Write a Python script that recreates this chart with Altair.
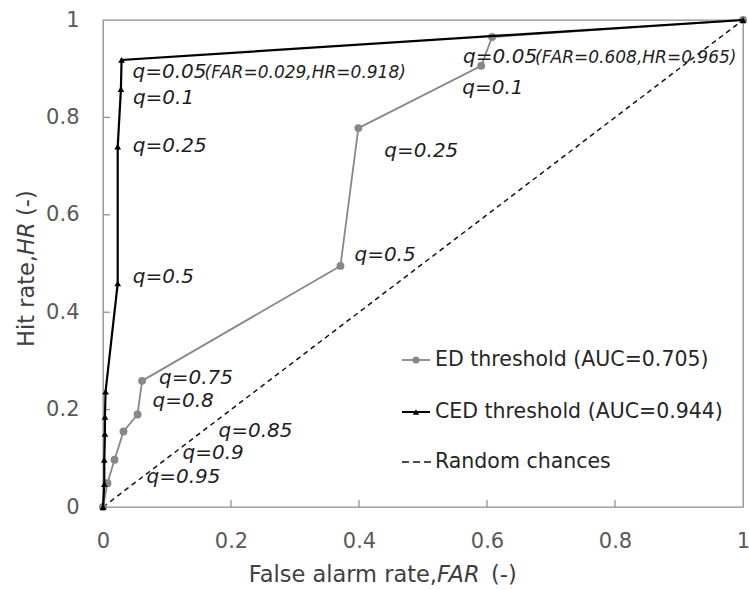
import altair as alt
import pandas as pd

# Exceedance thresholds q, from strictest to loosest
q_levels = [0.95, 0.9, 0.85, 0.8, 0.75, 0.5, 0.25, 0.1, 0.05]

# ROC points: origin, one point per threshold, then (1, 1)
ed_far = [0.0, 0.007, 0.018, 0.032, 0.054, 0.061, 0.371, 0.399, 0.591, 0.608, 1.0]
ed_hr = [0.0, 0.049, 0.097, 0.155, 0.190, 0.259, 0.495, 0.778, 0.906, 0.965, 1.0]
ced_far = [0.0, 0.002, 0.002, 0.003, 0.003, 0.004, 0.023, 0.023, 0.028, 0.029, 1.0]
ced_hr = [0.0, 0.047, 0.097, 0.150, 0.185, 0.237, 0.459, 0.740, 0.858, 0.918, 1.0]
rand_far = [0.0, 1.0]
rand_hr = [0.0, 1.0]

axis_ticks = [0, 0.2, 0.4, 0.6, 0.8, 1]
inner_ticks = [0.2, 0.4, 0.6, 0.8]

legend_labels = ["ED threshold (AUC=0.705)", "CED threshold (AUC=0.944)", "Random chances"]

# ---- layout / style ----
W, H = 640, 487
FONT = "DejaVu Sans"
ED_COLOR = "#878787"
TXT = "#1e1e1e"
LABEL_SIZE = 20
NOTE_SIZE = 17
Q_TEXT_W = 72  # rendered width of "q=0.05" at LABEL_SIZE

# label offsets (dx, dy) in pixels from the point each label names
ed_offsets = {0.95: (39, -6), 0.9: (68, -7), 0.85: (95, -1), 0.8: (15, -13),
              0.75: (17, -3), 0.5: (14, -11), 0.25: (26, 23), 0.1: (-19, 22),
              0.05: (-29, 20)}
ced_offsets = {0.5: (15, -6), 0.25: (15, -1), 0.1: (12, 9), 0.05: (11, 12)}
ced_labelled = [0.5, 0.25, 0.1, 0.05]

x_axis = alt.Axis(values=axis_ticks, format="~g", title=None, grid=False,
                  domain=False, ticks=False, tickSize=0, labelFont=FONT,
                  labelFontSize=21, labelColor="#595959", labelPadding=34,
                  labelBaseline="middle", labelFlush=False, labelOverlap=False,
                  labelBound=False)
y_axis = alt.Axis(values=axis_ticks, format="~g", title=None, grid=False,
                  domain=False, ticks=False, tickSize=0, labelFont=FONT,
                  labelFontSize=21, labelColor="#595959", labelPadding=24,
                  labelFlush=False, labelOverlap=False, labelBound=False)
xs = alt.Scale(domain=[0, 1], nice=False, zero=False)
ys = alt.Scale(domain=[0, 1], nice=False, zero=False)


def X(field="far"):
    return alt.X(f"{field}:Q", scale=xs, axis=x_axis)


def Y(field="hr"):
    return alt.Y(f"{field}:Q", scale=ys, axis=y_axis)


def curve(far, hr):
    return pd.DataFrame({"far": far, "hr": hr, "step": list(range(len(far)))})


ed = curve(ed_far, ed_hr)
ced = curve(ced_far, ced_hr)
rnd = curve(rand_far, rand_hr)

layers = []

# inward tick marks on the frame
tk = pd.DataFrame({"v": inner_ticks})
layers.append(alt.Chart(tk).mark_rule(color="#8c8c8c", strokeWidth=1.2).encode(
    x=alt.X("v:Q", scale=xs, axis=x_axis), y=alt.value(H), y2=alt.value(H - 7)))
layers.append(alt.Chart(tk).mark_rule(color="#8c8c8c", strokeWidth=1.2).encode(
    y=alt.Y("v:Q", scale=ys, axis=y_axis), x=alt.value(0), x2=alt.value(7)))

# random-chance diagonal
layers.append(alt.Chart(rnd).mark_line(color="#111111", strokeWidth=1.5,
                                       strokeDash=[5, 4]).encode(
    x=X(), y=Y(), order="step:Q"))

# ED curve
layers.append(alt.Chart(ed).mark_line(color=ED_COLOR, strokeWidth=1.8).encode(
    x=X(), y=Y(), order="step:Q"))
layers.append(alt.Chart(ed).mark_point(shape="circle", filled=True, size=62,
                                       color=ED_COLOR, opacity=1).encode(
    x=X(), y=Y()))

# CED curve
layers.append(alt.Chart(ced).mark_line(color="#000000", strokeWidth=2.2).encode(
    x=X(), y=Y(), order="step:Q"))
layers.append(alt.Chart(ced).mark_point(shape="triangle-up", filled=True, size=45,
                                        color="#000000", opacity=1).encode(
    x=X(), y=Y()))


def q_text(q):
    return f"q={q:g}"


def point_label(far, hr, text, dx, dy, size=LABEL_SIZE):
    df = pd.DataFrame({"far": [far], "hr": [hr], "t": [text]})
    return alt.Chart(df).mark_text(font=FONT, fontSize=size, fontStyle="italic",
                                   color=TXT, align="left", baseline="middle",
                                   dx=dx, dy=dy).encode(x=X(), y=Y(), text="t:N")


# threshold labels, ED
for i, q in enumerate(q_levels):
    dx, dy = ed_offsets[q]
    layers.append(point_label(ed_far[i + 1], ed_hr[i + 1], q_text(q), dx, dy))

# threshold labels, CED
for q in ced_labelled:
    i = q_levels.index(q)
    dx, dy = ced_offsets[q]
    layers.append(point_label(ced_far[i + 1], ced_hr[i + 1], q_text(q), dx, dy))

# coordinates of the loosest threshold on each curve
i05 = q_levels.index(0.05) + 1
ed_note = f"(FAR={ed_far[i05]:.3f},HR={ed_hr[i05]:.3f})"
ced_note = f"(FAR={ced_far[i05]:.3f},HR={ced_hr[i05]:.3f})"
layers.append(point_label(ed_far[i05], ed_hr[i05], ed_note,
                          ed_offsets[0.05][0] + Q_TEXT_W, ed_offsets[0.05][1] + 1,
                          NOTE_SIZE))
layers.append(point_label(ced_far[i05], ced_hr[i05], ced_note,
                          ced_offsets[0.05][0] + Q_TEXT_W, ced_offsets[0.05][1] + 1,
                          NOTE_SIZE))


# ---- legend (inside the plot, lower right) ----
def one_row():
    return alt.Chart(pd.DataFrame({"t": [""]}))


LG_X0, LG_X1, LG_TX = 299, 327, 332
LG_Y = [340, 392, 442]

layers.append(one_row().mark_rule(color=ED_COLOR, strokeWidth=1.8).encode(
    x=alt.value(LG_X0), x2=alt.value(LG_X1), y=alt.value(LG_Y[0])))
layers.append(one_row().mark_point(shape="circle", filled=True, size=50,
                                   color=ED_COLOR, opacity=1).encode(
    x=alt.value((LG_X0 + LG_X1) / 2), y=alt.value(LG_Y[0])))
layers.append(one_row().mark_rule(color="#000000", strokeWidth=2).encode(
    x=alt.value(LG_X0), x2=alt.value(LG_X1), y=alt.value(LG_Y[1])))
layers.append(one_row().mark_point(shape="triangle-up", filled=True, size=40,
                                   color="#000000", opacity=1).encode(
    x=alt.value((LG_X0 + LG_X1) / 2), y=alt.value(LG_Y[1])))
layers.append(one_row().mark_rule(color="#111111", strokeWidth=1.5,
                                  strokeDash=[7, 4]).encode(
    x=alt.value(LG_X0), x2=alt.value(LG_X1 + 1), y=alt.value(LG_Y[2])))
for lab, yy in zip(legend_labels, LG_Y):
    layers.append(alt.Chart(pd.DataFrame({"t": [lab]})).mark_text(
        font=FONT, fontSize=20.5, color="#262626", align="left",
        baseline="middle").encode(x=alt.value(LG_TX), y=alt.value(yy), text="t:N"))


# ---- axis titles (mixed upright / italic) ----
def title_part(text, x, y, align, italic=False, angle=0):
    kw = dict(font=FONT, fontSize=22.5, color="#404040", align=align,
              baseline="middle")
    if italic:
        kw["fontStyle"] = "italic"
    if angle:
        kw["angle"] = angle
    return alt.Chart(pd.DataFrame({"t": [text]})).mark_text(**kw).encode(
        x=alt.value(x), y=alt.value(y), text="t:N")


XT_Y = 555
layers.append(title_part("False alarm rate,", 334, XT_Y, "right"))
layers.append(title_part("FAR", 334, XT_Y, "left", italic=True))
layers.append(title_part("(-)", 388, XT_Y, "left"))

YT_X = -76
layers.append(title_part("Hit rate,", YT_X, 235, "right", angle=270))
layers.append(title_part("HR", YT_X, 235, "left", italic=True, angle=270))
layers.append(title_part("(-)", YT_X, 196, "left", angle=270))

chart = alt.layer(*layers).properties(
    width=W, height=H,
    autosize=alt.AutoSizeParams(type="none"),
    padding={"left": 103, "top": 20, "right": 6, "bottom": 83},
    background="white",
).configure_view(stroke="#8c8c8c", strokeWidth=1.3)

chart.save("out.html", embed_options={"renderer": "svg", "actions": False})
